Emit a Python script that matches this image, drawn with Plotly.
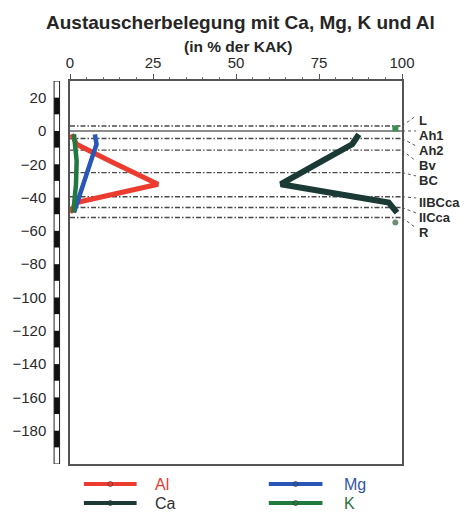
import plotly.graph_objects as go

# ---------------- data ----------------
depth = [-2, -8, -18, -32, -43, -49]          # cm, horizon mid-depths (Ah1 .. IICca)
ca = [87, 85, 76, 63.5, 96, 98.5]
mg = [7.5, 8, 6.3, 4, 2, 1.2]
k_vals = [1.2, 1.5, 2, 1.8, 1.3, 1.0]
al = [0.5, 2, 12, 26.5, 2, 0]

extra_depth = [1.5, -55]                       # L and R single points
extra_vals = [98, 98]

horizons = ["L", "Ah1", "Ah2", "Bv", "BC", "IIBCca", "IICca", "R"]
horizon_top = [3, 0, -4.5, -11.5, -25, -39.5, -46, -52]
label_depth = [6, -3, -12, -21, -30, -43.2, -52.2, -61.2]

x_ticks = [0, 25, 50, 75, 100]
y_ticks = [20, 0, -20, -40, -60, -80, -100, -120, -140, -160, -180]

# ---------------- styling ----------------
C_AL = "#ec3b2f"
C_CA = "#1c3a35"
C_MG = "#2857b8"
C_K = "#22793f"
FONT = "Liberation Sans, Arial, sans-serif"

L, R, T, B = 68, 402, 81, 464
W, H = 473, 512


def px_x(p):
    return (p - L) / (R - L)


def px_y(p):
    return (B - p) / (B - T)


fig = go.Figure()
fig.add_trace(go.Scatter(x=al, y=depth, mode="lines", line=dict(color=C_AL, width=5), name="Al"))
fig.add_trace(go.Scatter(x=mg, y=depth, mode="lines", line=dict(color=C_MG, width=4.5), name="Mg"))
fig.add_trace(go.Scatter(x=k_vals, y=depth, mode="lines", line=dict(color=C_K, width=4.5), name="K"))
fig.add_trace(go.Scatter(x=ca, y=depth, mode="lines", line=dict(color=C_CA, width=6), name="Ca"))
fig.add_trace(go.Scatter(x=extra_vals, y=extra_depth, mode="markers",
                         marker=dict(color=["#3c8f50", "#6f8f78"], size=6, symbol=["square", "circle"]),
                         name="L/R", cliponaxis=False))

shapes = []
# horizon boundaries (dash-dot)
for i, d in enumerate(horizon_top):
    if d == 0:
        continue
    shapes.append(dict(type="line", xref="x", yref="y", x0=0, x1=100, y0=d, y1=d,
                       line=dict(color="#4a4a4a", width=1.4, dash="5px,2px,1.5px,2px"), layer="below"))
# solid surface line at 0
shapes.append(dict(type="line", xref="x", yref="y", x0=0, x1=100, y0=0, y1=0,
                   line=dict(color="#666666", width=1.6), layer="below"))
# leader lines to horizon labels
for d, ld in zip(horizon_top, label_depth):
    shapes.append(dict(type="line", xref="paper", yref="y", x0=1.0, x1=px_x(416), y0=d, y1=ld + 3,
                       line=dict(color="#555555", width=1, dash="dot")))
# depth scale bar
bx0, bx1 = px_x(52), px_x(57.5)
shapes.append(dict(type="rect", xref="paper", yref="y", x0=bx0, x1=bx1, y0=-200, y1=30,
                   fillcolor="white", line=dict(color="#222", width=1)))
for t in y_ticks:
    shapes.append(dict(type="rect", xref="paper", yref="y", x0=bx0, x1=bx1, y0=t - 10, y1=t,
                       fillcolor="#111", line=dict(width=0)))

annotations = []
for name, ld in zip(horizons, label_depth):
    annotations.append(dict(text="<b>" + name + "</b>", xref="paper", yref="y", x=px_x(417), y=ld,
                            xanchor="left", yanchor="middle", showarrow=False,
                            font=dict(family=FONT, size=13, color="#2a2a2a")))

# title
annotations.append(dict(text="<b>Austauscherbelegung mit Ca, Mg, K und Al</b>", xref="paper", yref="paper",
                        x=px_x(240), y=px_y(22), xanchor="center", yanchor="middle", showarrow=False,
                        font=dict(family=FONT, size=19, color="#262626")))
annotations.append(dict(text="<b>(in % der KAK)</b>", xref="paper", yref="paper",
                        x=px_x(238), y=px_y(46), xanchor="center", yanchor="middle", showarrow=False,
                        font=dict(family=FONT, size=15.5, color="#262626")))

# legend (manual)
legend_items = [("Al", C_AL, 82, 135, 484, 152, C_AL),
                ("Ca", C_CA, 82, 135, 503, 152, "#2e2e2e"),
                ("Mg", C_MG, 268, 322, 484, 342, "#3553a8"),
                ("K", C_K, 268, 322, 503, 342, "#2a7040")]
for name, col, lx0, lx1, ly, tx, tcol in legend_items:
    shapes.append(dict(type="line", xref="paper", yref="paper", x0=px_x(lx0), x1=px_x(lx1),
                       y0=px_y(ly), y1=px_y(ly), line=dict(color=col, width=4)))
    cx = (lx0 + lx1) / 2
    shapes.append(dict(type="circle", xref="paper", yref="paper", x0=px_x(cx - 2.5), x1=px_x(cx + 2.5),
                       y0=px_y(ly + 2.5), y1=px_y(ly - 2.5), fillcolor=col, line=dict(color="#333", width=0.6)))
    annotations.append(dict(text=name, xref="paper", yref="paper", x=px_x(tx), y=px_y(ly),
                            xanchor="left", yanchor="middle", showarrow=False,
                            font=dict(family=FONT, size=16, color=tcol)))

fig.update_layout(
    width=W, height=H,
    margin=dict(l=L, r=W - R, t=T, b=H - B),
    paper_bgcolor="white", plot_bgcolor="white",
    showlegend=False,
    shapes=shapes, annotations=annotations,
    font=dict(family=FONT, color="#2a2a2a"),
    xaxis=dict(side="top", range=[0, 100], tickvals=x_ticks, ticks="outside", ticklen=5,
               tickcolor="#555", tickwidth=1.2,
               minor=dict(dtick=5, ticks="outside", ticklen=2.5, tickcolor="#777"),
               showline=True, linecolor="#555", linewidth=1.5, mirror=True,
               showgrid=False, zeroline=False, tickfont=dict(size=15, color="#2a2a2a")),
    yaxis=dict(range=[-200, 30], tickvals=y_ticks, ticks="", ticklabelstandoff=19,
               showline=True, linecolor="#555", linewidth=1.5, mirror=True,
               showgrid=False, zeroline=False, tickfont=dict(size=15, color="#2a2a2a")),
)

fig.write_html("out.html")
